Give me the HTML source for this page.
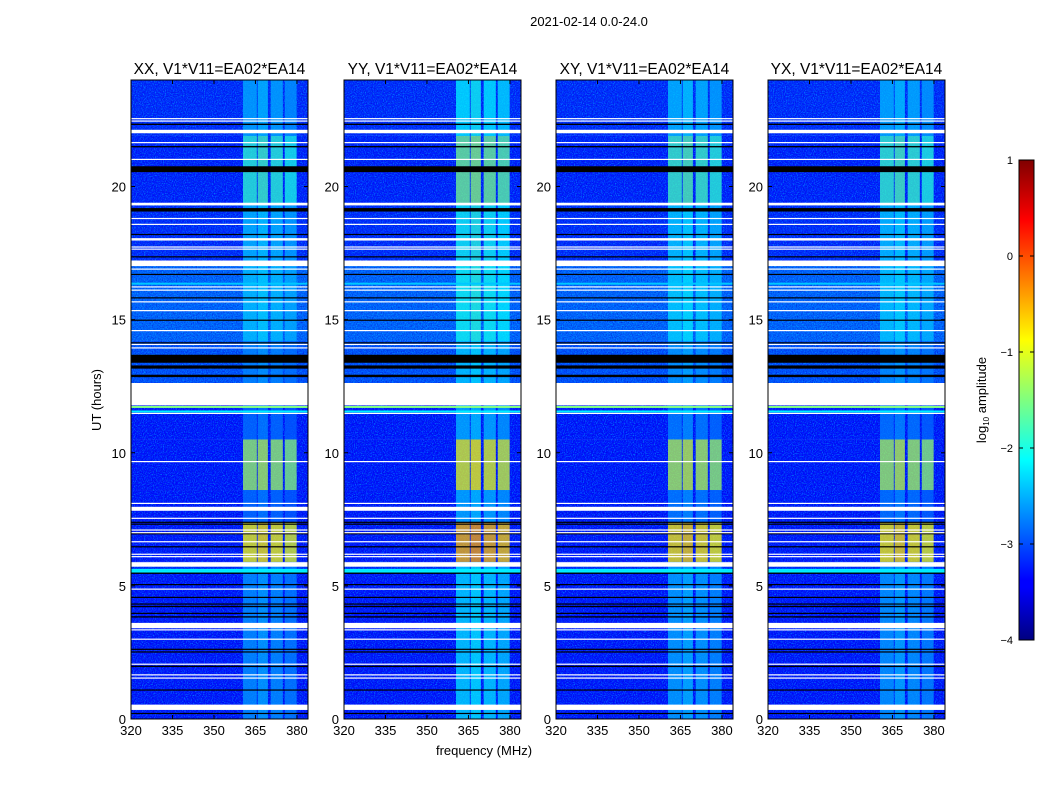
<!DOCTYPE html>
<html><head><meta charset="utf-8"><style>
body{margin:0;background:#fff;}
svg{display:block;font-family:"Liberation Sans","DejaVu Sans",sans-serif;}
</style></head><body>
<svg id="fig" width="1050" height="800" viewBox="0 0 1050 800">
<defs>
<filter id="noise" x="0" y="0" width="100%" height="100%">
<feTurbulence type="fractalNoise" baseFrequency="0.9" numOctaves="1" seed="3" result="t"/>
<feColorMatrix type="matrix" values="0 0 0 0 0  1.4 0 0 0 -0.3  0 0 0 0 1  3 0 0 0 -1.3"/>
</filter>
<filter id="dark" x="0" y="0" width="100%" height="100%">
<feTurbulence type="fractalNoise" baseFrequency="0.8" numOctaves="1" seed="9"/>
<feColorMatrix type="matrix" values="0 0 0 0 0  0 0 0 0 0  0 0 0 0 0.5  3 0 0 0 -1.4"/>
</filter>
<linearGradient id="jetgrad" x1="0" y1="1" x2="0" y2="0">
<stop offset="0" stop-color="#000080"/><stop offset="0.11" stop-color="#0000ff"/>
<stop offset="0.125" stop-color="#0000ff"/><stop offset="0.375" stop-color="#00ffff"/>
<stop offset="0.625" stop-color="#ffff00"/><stop offset="0.875" stop-color="#ff0000"/>
<stop offset="1" stop-color="#800000"/></linearGradient>
</defs>
<text x="589" y="26" font-size="13" text-anchor="middle">2021-02-14 0.0-24.0</text>
<text x="484" y="755" font-size="13" text-anchor="middle">frequency (MHz)</text>
<text transform="translate(101,400) rotate(-90)" font-size="13" text-anchor="middle">UT (hours)</text>
<g id="panels"></g>
<g>
<rect x="1019" y="160" width="15" height="480" fill="url(#jetgrad)" stroke="#000" stroke-width="1"/>
<g id="cbticks"></g>
<text transform="translate(986,400) rotate(-90)" font-size="13" text-anchor="middle">log<tspan font-size="8" dy="3">10</tspan><tspan dy="-3"> amplitude</tspan></text>
</g>
</svg>
<script>
const panelNames=["XX, V1*V11=EA02*EA14","YY, V1*V11=EA02*EA14","XY, V1*V11=EA02*EA14","YX, V1*V11=EA02*EA14"];
const panelOffsets=[0,0.35,0.1,0.05];
const xTicks=[320,335,350,365,380];
const yTicks=[0,5,10,15,20];
const cbTicks=[1,0,-1,-2,-3,-4];
// time segments: start hour, end hour, background log amp, signal log amp
const segStart=[0,5.5,5.9,7.4,8.6,10.5,12.6,14.2,17.2,19.3,21.9];
const segEnd=[5.5,5.9,7.4,8.6,10.5,11.8,14.2,17.2,19.3,21.9,24];
const segBg=[-3.3,-3.2,-3.3,-3.3,-3.3,-3.3,-3.0,-2.9,-3.2,-3.25,-3.2];
const segSig=[-2.6,-2.6,-0.9,-2.8,-1.35,-2.8,-2.7,-2.4,-2.4,-1.9,-2.5];
// signal frequency columns (MHz)
const colStart=[360.5,365.8,370.5,375.6];
const colEnd=[365.5,369.5,374.9,379.9];
const colGain=[0,0.1,0,-0.1];
// white (flagged) gaps
const whiteStart=[0.34,1.53,1.65,2.05,2.99,3.34,3.41,4.87,5.72,6.09,6.18,6.65,6.99,7.09,7.53,7.82,8.09,9.66,11.47,11.78,13.93,14.06,14.58,15.33,15.66,16.1,16.22,16.89,17.01,17.64,17.72,17.97,18.57,18.79,19.29,21.01,21.64,22.0,22.45,22.54];
const whiteEnd=[0.54,1.56,1.68,2.08,3.02,3.37,3.61,4.9,5.89,6.12,6.21,6.68,7.02,7.12,7.56,7.97,8.12,9.69,11.5,12.62,13.96,14.09,14.61,15.36,15.69,16.13,16.25,16.92,17.22,17.67,17.75,18.06,18.6,18.82,19.39,21.04,21.67,22.13,22.48,22.57];
// black bands
const blackStart=[0.19,1.07,1.95,2.5,2.6,3.81,3.95,4.2,4.3,4.55,5.03,5.45,6.45,6.95,7.3,7.37,12.84,13.16,13.38,14.12,14.97,15.81,16.69,17.35,18.19,19.06,20.54,21.47,22.31];
const blackEnd=[0.23,1.11,2.0,2.54,2.64,3.86,3.99,4.25,4.34,4.59,5.07,5.5,6.49,6.98,7.34,7.41,12.93,13.28,13.68,14.15,15.0,15.84,16.72,17.38,18.22,19.19,20.76,21.52,22.36];
// colored lines (hour, log amp)
const colorLineH=[5.53,5.6,11.72,11.55,16.35];
const colorLineV=[-2.2,-2.2,-1.5,-2.2,-2.4];

const NS="http://www.w3.org/2000/svg";
function el(tag,attrs,parent){const e=document.createElementNS(NS,tag);for(const k in attrs)e.setAttribute(k,attrs[k]);parent.appendChild(e);return e;}
function jet(v){let t=(v+4)/5;t=Math.max(0,Math.min(1,t));const c=x=>Math.round(255*Math.max(0,Math.min(1,x)));
return `rgb(${c(1.5-Math.abs(4*t-3))},${c(1.5-Math.abs(4*t-2))},${c(1.5-Math.abs(4*t-1))})`;}
const panelX=[131,344,556,768],PW=177,PT=80,PB=719;
const fMin=320,fMax=384,tMin=0,tMax=24;
const panels=document.getElementById('panels');
panelNames.forEach((name,p)=>{
  const x0=panelX[p];
  const xs=f=>x0+(f-fMin)/(fMax-fMin)*PW;
  const ys=h=>PB-(h-tMin)/(tMax-tMin)*(PB-PT);
  const g=el('g',{},panels);
  
  
  const t=el('text',{x:x0+PW/2,y:74,'font-size':15.5,'text-anchor':'middle'},g);
  t.textContent=name;
  
  
  el('rect',{x:x0,y:PT,width:PW,height:PB-PT,fill:'#fff'},g);
  for(let i=0;i<segStart.length;i++){
    const r=el('rect',{x:x0,y:ys(segEnd[i]),width:PW,height:ys(segStart[i])-ys(segEnd[i]),fill:jet(segBg[i])},g);
    
    
  }
  el('rect',{x:x0,y:PT,width:PW,height:PB-PT,filter:'url(#noise)',opacity:0.5},g);
  el('rect',{x:x0,y:PT,width:PW,height:PB-PT,filter:'url(#dark)',opacity:0.5},g);
  for(let i=0;i<segStart.length;i++){
    for(let c=0;c<colStart.length;c++){
      const r=el('rect',{x:xs(colStart[c]),y:ys(segEnd[i]),width:xs(colEnd[c])-xs(colStart[c]),height:ys(segStart[i])-ys(segEnd[i]),fill:jet(segSig[i]+panelOffsets[p]+colGain[c]),opacity:0.75},g);
      
      
    }
  }
  for(let i=0;i<colorLineH.length;i++){
    const r=el('rect',{x:x0,y:ys(colorLineH[i])-1,width:PW,height:2,fill:jet(colorLineV[i])},g);
    
    
  }
  for(let i=0;i<blackStart.length;i++){
    const h=Math.max(1.2,ys(blackStart[i])-ys(blackEnd[i]));
    const r=el('rect',{x:x0,y:ys(blackEnd[i]),width:PW,height:h,fill:'#000'},g);
    
    
  }
  for(let i=0;i<whiteStart.length;i++){
    const h=Math.max(1.2,ys(whiteStart[i])-ys(whiteEnd[i]));
    const r=el('rect',{x:x0,y:ys(whiteEnd[i]),width:PW,height:h,fill:'#fff'},g);
    
    
  }
  el('rect',{x:x0,y:PT,width:PW,height:PB-PT,fill:'none',stroke:'#000','stroke-width':1},g);
  xTicks.forEach(v=>{
    const x=xs(v);
    el('line',{x1:x,x2:x,y1:PB,y2:PB-4,stroke:'#000'},g);
    el('line',{x1:x,x2:x,y1:PT,y2:PT+4,stroke:'#000'},g);
    const tt=el('text',{x:x,y:PB+16,'font-size':13,'text-anchor':'middle'},g);
    tt.textContent=v;
    
    
  });
  yTicks.forEach(v=>{
    const y=ys(v);
    el('line',{x1:x0,x2:x0+4,y1:y,y2:y,stroke:'#000'},g);
    el('line',{x1:x0+PW,x2:x0+PW-4,y1:y,y2:y,stroke:'#000'},g);
    const tt=el('text',{x:x0-5,y:y+5,'font-size':13,'text-anchor':'end'},g);
    tt.textContent=v;
    
    
  });
});
const cb=document.getElementById('cbticks');
cbTicks.forEach(v=>{
  const y=640-(v+4)/5*480;
  el('line',{x1:1019,x2:1023,y1:y,y2:y,stroke:'#000'},cb);
  el('line',{x1:1034,x2:1030,y1:y,y2:y,stroke:'#000'},cb);
  const tt=el('text',{x:1013,y:y+4,'font-size':11,'text-anchor':'end'},cb);
  tt.textContent=v<0?'\u2212'+Math.abs(v):String(v);
  
  
});
</script>
</body></html>
